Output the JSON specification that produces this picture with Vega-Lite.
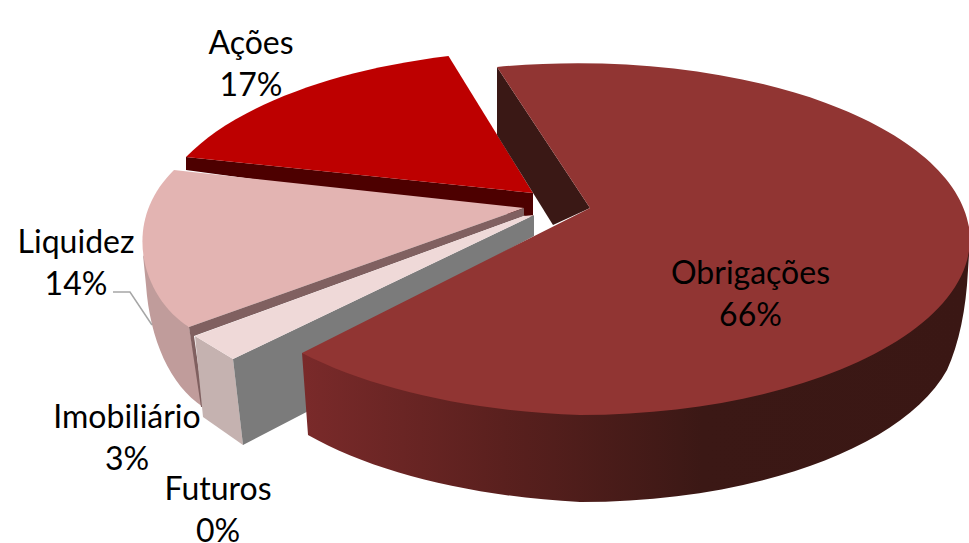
{
"$schema":"https://vega.github.io/schema/vega-lite/v6.json",
"width":969,"height":543,"padding":0,"autosize":"none",
"background":"white",
"config":{"view":{"stroke":null}},
"datasets":{
"slices":[{"slice":"Obrigações","share":66},{"slice":"Ações","share":17},{"slice":"Liquidez","share":14},{"slice":"Imobiliário","share":3},{"slice":"Futuros","share":0}],
"faces":[
{"face":"Ações lateral"},{"face":"Ações topo"},{"face":"Obrigações interior"},{"face":"Liquidez exterior"},{"face":"Liquidez topo"},{"face":"Liquidez interior"},{"face":"Imobiliário exterior"},{"face":"Imobiliário interior"},{"face":"Imobiliário topo"}],
"outer":[{"face":"Obrigações exterior"}],
"top":[{"face":"Obrigações topo"}],
"guide":[{"face":"Liquidez guia"}]
},
"layer":[
{"data":{"name":"faces"},
 "mark":{"type":"point","filled":true,"opacity":1,"strokeWidth":0},
 "encoding":{
  "size":{"value":4},
  "shape":{"field":"face","type":"nominal","legend":null,"scale":{
   "domain":["Ações lateral","Ações topo","Obrigações interior","Liquidez exterior","Liquidez topo","Liquidez interior","Imobiliário exterior","Imobiliário interior","Imobiliário topo"],
   "range":[
    "M-298.5 -114.5L48.5 -78.5L48.5 -54.5L-298.5 -101.5Z",
    "M-36 -215.5L48.5 -78.5L-298.5 -114.5A400 176 0 0 1 -36 -215.5Z",
    "M12.5 -204.5L105.5 -63.5L68.5 -46.5L12.5 -136.5Z",
    "M-341.5 -16.5L-295.5 55.5L-281.5 135.5C-314.5 113.5 -334.5 68.5 -338.5 13.5Z",
    "M-310.5 -101.5L39.5 -63.5L-295.5 55.5C-339.5 28.5 -366.5 -46.5 -310.5 -101.5Z",
    "M-295.5 55.5L39.5 -63.5L39.5 -55.5L-290.5 64.5L-280.5 135.5L-283.5 135.5Z",
    "M-289.5 64.5L-251.5 87.5L-241.5 173.5L-281.5 145.5Z",
    "M-251.5 87.5L49.5 -56.5L49.5 -35.5L-164.5 78.5L-164.5 133.5L-241.5 173.5Z",
    "M-289.5 64.5L39.5 -55.5L49.5 -56.5L-251.5 87.5Z"]}},
  "fill":{"field":"face","type":"nominal","legend":null,"scale":{
   "domain":["Ações lateral","Ações topo","Obrigações interior","Liquidez exterior","Liquidez topo","Liquidez interior","Imobiliário exterior","Imobiliário interior","Imobiliário topo"],
   "range":["#4d0000","#bd0000","#3a1815","#c09c9b","#e3b4b2","#806060","#c5b2b0","#7b7b7b","#efd9d8"]}}
 }},
{"data":{"name":"outer"},
 "mark":{"type":"point","filled":true,"opacity":1,"strokeWidth":0,
  "fill":{"gradient":"linear","x1":0,"x2":1,"y1":0,"y2":0,"stops":[{"offset":0,"color":"#7a2a2a"},{"offset":0.3,"color":"#5a201e"},{"offset":0.6,"color":"#3b1815"},{"offset":1,"color":"#3a1714"}]}},
 "encoding":{
  "size":{"value":4},
  "shape":{"field":"face","type":"nominal","legend":null,"scale":{"domain":["Obrigações exterior"],"range":["M-182.5 81.5L-176.5 163.5A400 170 0 0 0 95.5 230.5A378 176 0 0 0 462.5 98.5Q480.5 58.5 483.5 -1.5L485.5 -31.5L95.5 128.5Z"]}}
 }
},
{"data":{"name":"top"},
 "mark":{"type":"point","filled":true,"opacity":1,"strokeWidth":0,"fill":"#913533"},
 "encoding":{
  "size":{"value":4},
  "shape":{"field":"face","type":"nominal","legend":null,"scale":{"domain":["Obrigações topo"],"range":["M12.5 -204.5A392 176.5 0 0 1 485.5 -31.5A392 176.5 0 0 1 95.5 143.5A400 170 0 0 1 -182.5 81.5L105.5 -63.5Z"]}}
 }},
{"data":{"name":"guide"},
 "mark":{"type":"point","filled":false,"opacity":1,"strokeWidth":1.5,"stroke":"#a6a6a6"},
 "encoding":{
  "size":{"value":4},
  "shape":{"field":"face","type":"nominal","legend":null,"scale":{"domain":["Liquidez guia"],"range":["M-371.5 20.5L-354.5 20.5L-332.5 53.5"]}}
 }},
{"data":{"name":"slices"},"transform":[{"filter":"datum.slice==='Obrigações'"},{"calculate":"datum.slice+'\\n'+datum.share+'%'","as":"label"}],
 "mark":{"type":"text","font":"Lato","fontSize":32,"color":"black","lineBreak":"\n","lineHeight":42,"align":"center","baseline":"middle","dx":266,"dy":2.5},
 "encoding":{"text":{"field":"label"}}},
{"data":{"name":"slices"},"transform":[{"filter":"datum.slice==='Ações'"},{"calculate":"datum.slice+'\\n'+datum.share+'%'","as":"label"}],
 "mark":{"type":"text","font":"Lato","fontSize":32,"color":"black","lineBreak":"\n","lineHeight":42,"align":"center","baseline":"middle","dx":-233.5,"dy":-227.5},
 "encoding":{"text":{"field":"label"}}},
{"data":{"name":"slices"},"transform":[{"filter":"datum.slice==='Liquidez'"},{"calculate":"datum.slice+'\\n'+datum.share+'%'","as":"label"}],
 "mark":{"type":"text","font":"Lato","fontSize":32,"color":"black","lineBreak":"\n","lineHeight":42,"align":"center","baseline":"middle","dx":-408.5,"dy":-28.5},
 "encoding":{"text":{"field":"label"}}},
{"data":{"name":"slices"},"transform":[{"filter":"datum.slice==='Imobiliário'"},{"calculate":"datum.slice+'\\n'+datum.share+'%'","as":"label"}],
 "mark":{"type":"text","font":"Lato","fontSize":32,"color":"black","lineBreak":"\n","lineHeight":42,"align":"center","baseline":"middle","dx":-357.5,"dy":146.5},
 "encoding":{"text":{"field":"label"}}},
{"data":{"name":"slices"},"transform":[{"filter":"datum.slice==='Futuros'"},{"calculate":"datum.slice+'\\n'+datum.share+'%'","as":"label"}],
 "mark":{"type":"text","font":"Lato","fontSize":32,"color":"black","lineBreak":"\n","lineHeight":42,"align":"center","baseline":"middle","dx":-266.5,"dy":218.5},
 "encoding":{"text":{"field":"label"}}}
],
"resolve":{"scale":{"shape":"independent","fill":"independent"}}
}
